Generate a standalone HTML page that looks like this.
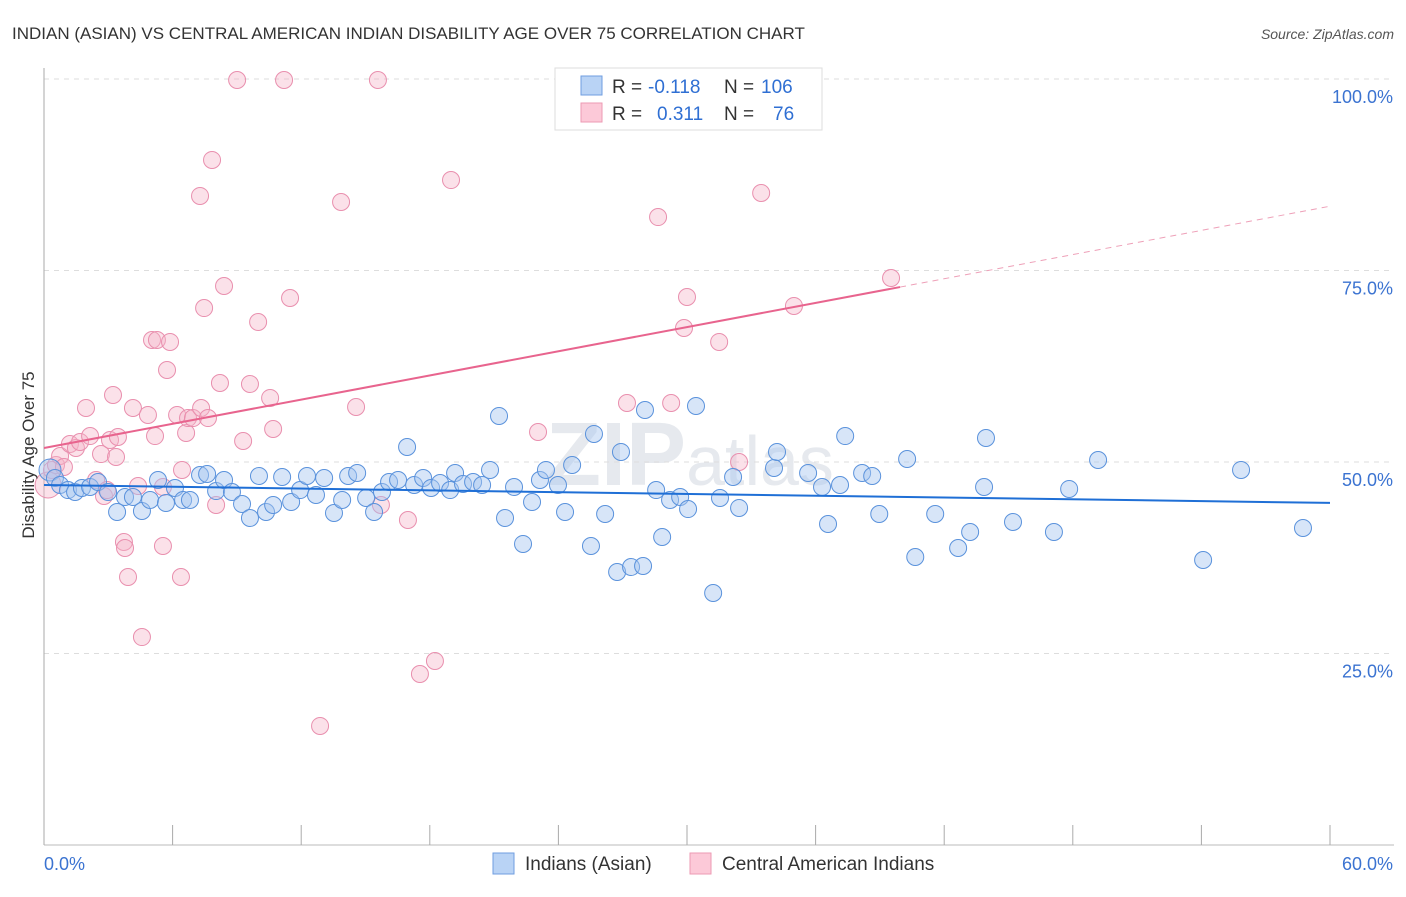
<!DOCTYPE html>
<html><head><meta charset="utf-8"><style>
body{margin:0;background:#fff;font-family:"Liberation Sans",sans-serif}
svg text{font-family:"Liberation Sans",sans-serif}
</style></head><body>
<svg id="c" width="1406" height="892" xmlns="http://www.w3.org/2000/svg">
<text x="12" y="39" font-size="17" fill="#333">INDIAN (ASIAN) VS CENTRAL AMERICAN INDIAN DISABILITY AGE OVER 75 CORRELATION CHART</text>
<text x="1394" y="39" font-size="14" fill="#555" font-style="italic" text-anchor="end">Source: ZipAtlas.com</text>
<text x="690" y="485" font-size="90" fill="#e6e9ee" text-anchor="middle" font-weight="bold">ZIP<tspan font-weight="normal" font-size="70">atlas</tspan></text>
<g id="grid"></g><g id="axes"></g><g id="pts"></g><g id="lines"></g>
<text transform="translate(34,455) rotate(-90)" font-size="17" fill="#333" text-anchor="middle">Disability Age Over 75</text>
<g>
<rect x="555" y="68" width="267" height="62" fill="#fff" stroke="#ddd"/>
<rect x="581" y="76" width="21" height="19" fill="#b9d3f5" stroke="#6f9ee0"/>
<rect x="581" y="103" width="21" height="19" fill="#fcc9d8" stroke="#ec9ab3"/>
<text y="93" font-size="19" fill="#333"><tspan x="612">R =</tspan><tspan x="648" fill="#2f6fd3">-0.118</tspan><tspan x="724">N =</tspan><tspan x="761" fill="#2f6fd3">106</tspan></text>
<text y="120" font-size="19" fill="#333"><tspan x="612">R =</tspan><tspan x="657" fill="#2f6fd3">0.311</tspan><tspan x="724">N =</tspan><tspan x="773" fill="#2f6fd3">76</tspan></text>
</g>
<g>
<rect x="493" y="853" width="21" height="21" fill="#b9d3f5" stroke="#6f9ee0"/>
<text x="525" y="870" font-size="19" fill="#333">Indians (Asian)</text>
<rect x="690" y="853" width="21" height="21" fill="#fcc9d8" stroke="#ec9ab3"/>
<text x="722" y="870" font-size="19" fill="#333">Central American Indians</text>
</g>
</svg>
<script>
const blueX=[0.28,0.51,0.75,1.12,1.45,1.77,2.15,2.52,2.99,3.41,3.78,4.15,4.57,4.95,5.32,5.69,6.11,6.49,6.81,7.28,7.61,8.03,8.40,8.77,9.24,9.61,10.03,10.36,10.69,11.11,11.53,11.95,12.27,12.69,13.07,13.53,13.91,14.19,14.61,15.03,15.40,15.77,16.10,16.52,16.94,17.27,17.69,18.06,18.48,18.95,19.18,19.55,20.02,20.44,20.81,21.23,21.51,21.93,22.35,22.77,23.14,23.42,23.98,24.31,24.64,25.52,25.66,26.18,26.74,26.92,27.39,27.95,28.04,28.56,28.84,29.21,29.68,30.05,30.42,31.22,31.54,32.15,32.43,34.06,34.20,35.65,36.30,36.58,37.14,37.38,38.17,38.64,38.97,40.27,40.65,41.58,42.65,43.21,43.86,43.95,45.21,47.12,47.83,49.18,54.08,55.85,58.74];
const blueY=[48.96,47.91,47.0,46.34,46.08,46.61,46.74,47.39,46.08,43.47,45.43,45.43,43.60,45.04,47.65,44.65,46.61,45.04,45.04,48.30,48.43,46.21,47.65,46.08,44.52,42.69,48.17,43.47,44.39,48.04,44.78,46.34,48.17,45.69,47.91,43.34,45.04,48.17,48.56,45.30,43.47,46.08,47.39,47.65,51.96,47.0,47.91,46.61,47.26,46.34,48.56,47.13,47.39,47.0,48.96,56.01,42.69,46.74,39.30,44.78,47.65,48.96,47.0,43.47,49.61,39.03,53.66,43.21,35.64,51.31,36.29,36.42,56.79,46.34,40.21,45.04,45.43,43.86,57.31,32.90,45.30,48.04,44.0,49.22,51.31,48.56,46.74,41.91,47.0,53.39,48.56,48.17,43.21,50.39,37.60,43.21,38.77,40.86,46.74,53.13,42.17,40.86,46.48,50.26,37.21,48.96,41.38];
const pinkX=[0.19,0.37,0.56,0.75,0.93,1.21,1.49,1.68,1.96,2.15,2.43,2.66,2.80,2.94,3.08,3.22,3.36,3.45,3.73,3.78,3.92,4.15,4.39,4.57,4.85,5.04,5.18,5.27,5.55,5.55,5.74,5.88,6.21,6.39,6.44,6.63,6.72,6.95,7.28,7.33,7.47,7.65,7.84,8.03,8.21,8.40,9.01,9.29,9.61,9.99,10.55,10.69,11.20,11.48,12.88,13.86,14.56,15.58,15.72,16.98,17.54,18.24,18.99,23.05,27.20,28.65,29.26,29.86,30.00,31.50,32.43,33.46,34.99,39.52];
const pinkY=[47.0,48.96,49.61,50.78,49.35,52.35,51.83,52.61,57.05,53.39,47.65,51.04,45.56,46.34,52.87,58.75,50.65,53.26,39.56,38.77,34.99,57.05,46.87,27.15,56.14,65.93,53.39,65.93,46.74,39.03,62.01,65.67,56.14,34.99,48.96,53.79,55.74,55.74,84.73,57.05,70.10,55.74,89.43,44.39,60.31,72.98,99.87,52.74,60.18,68.28,58.36,54.31,99.87,71.41,15.54,83.94,57.18,99.87,44.39,42.43,22.32,24.02,86.81,53.92,57.70,81.98,57.70,67.49,71.54,65.67,50.0,85.12,70.37,74.02];
const yTicks=[25,50,75,100];
const xTicks=[0,6,12,18,24,30,36,42,48,54,60];
const blueTrend=[47.0,-0.039];
const pinkTrend=[51.83,0.526,39.94];
const NS='http://www.w3.org/2000/svg';
const X0=44,X1=1330,Y0=845,Y1=79;
const sx=v=>X0+(v/60)*(X1-X0), sy=v=>Y0-(v/100)*(Y0-Y1);
function mk(t,a,p){const e=document.createElementNS(NS,t);for(const k in a)e.setAttribute(k,a[k]);document.getElementById(p).appendChild(e);return e;}
yTicks.forEach(t=>{const l=mk('line',{x1:X0,x2:1394,y1:sy(t),y2:sy(t),stroke:'#ddd','stroke-dasharray':'5,5'},'grid');


const tx=mk('text',{x:1393,y:sy(t)+24,'font-size':18,fill:'#3b73d1','text-anchor':'end'},'axes');tx.textContent=t.toFixed(1)+'%';

});
const ax=mk('line',{x1:X0,x2:X0,y1:68,y2:Y0,stroke:'#aaa'},'axes');


const bx=mk('line',{x1:X0,x2:1394,y1:Y0,y2:Y0,stroke:'#bbb'},'axes');


xTicks.forEach(t=>{const l=mk('line',{x1:sx(t),x2:sx(t),y1:825,y2:Y0,stroke:'#aaa'},'axes');

});
[[0,'start',44],[60,'end',1393]].forEach(([t,a,x])=>{const tx=mk('text',{x:x,y:870,'font-size':18,fill:'#3b73d1','text-anchor':a},'axes');tx.textContent=t.toFixed(1)+'%';

});
pinkX.forEach((v,i)=>{const c=mk('circle',{cx:sx(v),cy:sy(pinkY[i]),r:i==0?13:8.5,fill:'#f5b3c8','fill-opacity':0.4,stroke:'#e98fae','stroke-width':1},'pts');

});
blueX.forEach((v,i)=>{const c=mk('circle',{cx:sx(v),cy:sy(blueY[i]),r:i==0?11:8.5,fill:'#a7c6f0','fill-opacity':0.45,stroke:'#5a92dc','stroke-width':1},'pts');

});
const bl=mk('line',{x1:sx(0),y1:sy(blueTrend[0]),x2:sx(60),y2:sy(blueTrend[0]+blueTrend[1]*60),stroke:'#1f6fd6','stroke-width':2},'lines');


const pe=pinkTrend[2];
const pl=mk('line',{x1:sx(0),y1:sy(pinkTrend[0]),x2:sx(pe),y2:sy(pinkTrend[0]+pinkTrend[1]*pe),stroke:'#e8648e','stroke-width':2},'lines');


const pd=mk('line',{x1:sx(pe),y1:sy(pinkTrend[0]+pinkTrend[1]*pe),x2:sx(60),y2:sy(pinkTrend[0]+pinkTrend[1]*60),stroke:'#eea0b8','stroke-width':1,'stroke-dasharray':'6,5'},'lines');


</script>
</body></html>
